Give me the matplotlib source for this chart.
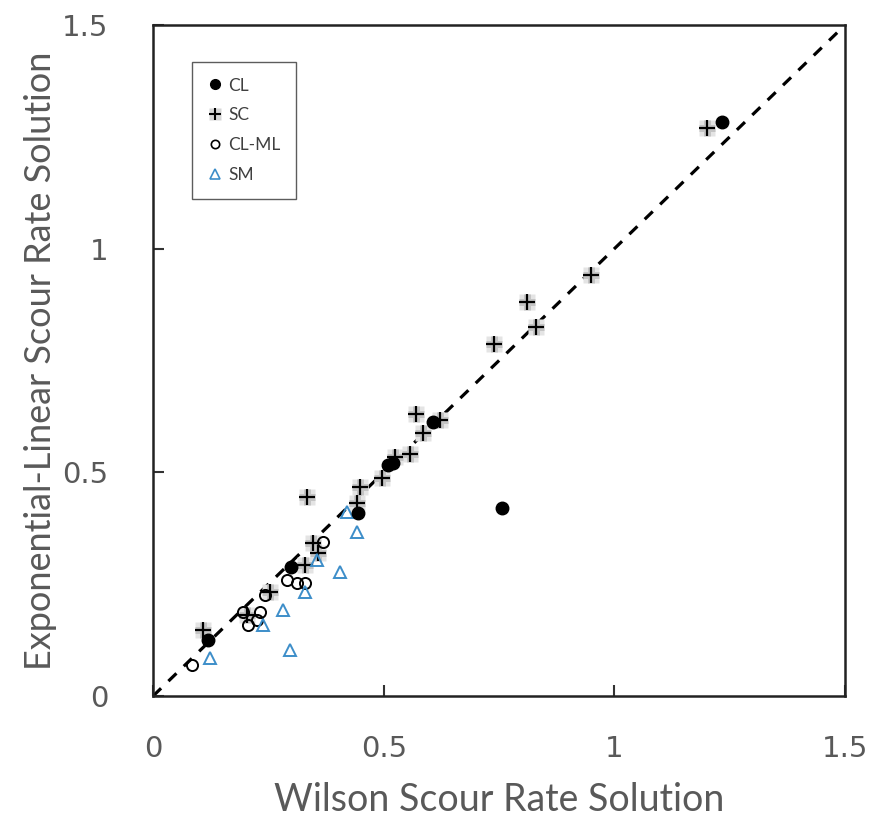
import numpy as np
import matplotlib.pyplot as plt
from matplotlib.lines import Line2D

# Wilson vs exponential-linear scour rate, by soil type
cl_x = [0.12, 0.30, 0.445, 0.51, 0.52, 0.607, 0.756, 1.234]
cl_y = [0.125, 0.289, 0.409, 0.516, 0.52, 0.612, 0.420, 1.283]

sc_x = [0.108, 0.204, 0.254, 0.330, 0.347, 0.358, 0.333, 0.443, 0.449, 0.496,
        0.525, 0.557, 0.585, 0.570, 0.623, 0.740, 0.811, 0.831, 0.950, 1.201]
sc_y = [0.148, 0.181, 0.233, 0.293, 0.342, 0.320, 0.446, 0.431, 0.468, 0.487,
        0.534, 0.541, 0.589, 0.630, 0.617, 0.786, 0.881, 0.826, 0.941, 1.269]

clml_x = [0.084, 0.195, 0.206, 0.232, 0.225, 0.243, 0.290, 0.312, 0.330, 0.369]
clml_y = [0.069, 0.188, 0.159, 0.188, 0.170, 0.226, 0.259, 0.253, 0.253, 0.344]

sm_x = [0.124, 0.239, 0.282, 0.297, 0.330, 0.355, 0.406, 0.420, 0.442]
sm_y = [0.085, 0.159, 0.192, 0.103, 0.233, 0.304, 0.277, 0.411, 0.367]

ticks = [0, 0.5, 1, 1.5]
tick_labels = ['0', '0.5', '1', '1.5']

grey = '#595959'
blue = '#3d8ec9'

fig = plt.figure(figsize=(8.76, 8.30), dpi=100)
ax = fig.add_axes([0.1747, 0.1614, 0.79, 0.8085])

# 1:1 line
ax.plot([0, 1.5], [0, 1.5], color='black', lw=2.3, ls=(0, (3.5, 3.2)), zorder=1)

ax.plot(sc_x, sc_y, ls='none', marker='s', ms=12, mfc='#e4e4e4', mec='none', zorder=2)
ax.plot(sc_x, sc_y, ls='none', marker='+', ms=12, mew=5, color='#c4c4c4', zorder=2)
ax.plot(sc_x, sc_y, ls='none', marker='+', ms=11, mew=1.6, color='black', zorder=3)
ax.plot(clml_x, clml_y, ls='none', marker='o', ms=8, mfc='none', mec='black', mew=1.4, zorder=3)
ax.plot(sm_x, sm_y, ls='none', marker='^', ms=9, mfc='none', mec=blue, mew=1.4, zorder=3)
ax.plot(cl_x, cl_y, ls='none', marker='o', ms=9, color='black', zorder=4)

ax.set_xlim(0, 1.5)
ax.set_ylim(0, 1.5)
ax.set_xticks(ticks)
ax.set_xticklabels(tick_labels)
ax.set_yticks(ticks)
ax.set_yticklabels(tick_labels)
ax.tick_params(direction='in', length=8, width=1.5, color='#333333',
               labelsize=21, labelcolor=grey)
ax.tick_params(axis='x', pad=28)
ax.tick_params(axis='y', pad=32)
for s in ax.spines.values():
    s.set_linewidth(1.8)
    s.set_color('#222222')

ax.set_xlabel('Wilson Scour Rate Solution', fontsize=27, color=grey,
              family='Lato', labelpad=14)
ax.set_ylabel('Exponential-Linear Scour Rate Solution', fontsize=26, color=grey,
              family='Lato', labelpad=4)

h_cl = Line2D([], [], ls='none', marker='o', ms=7, color='black')
h_sc = (Line2D([], [], ls='none', marker='s', ms=8, mfc='#d6d6d6', mec='none'),
        Line2D([], [], ls='none', marker='+', ms=9, mew=1.5, color='black'))
h_clml = Line2D([], [], ls='none', marker='o', ms=6, mfc='none', mec='black', mew=1.2)
h_sm = Line2D([], [], ls='none', marker='^', ms=7, mfc='none', mec=blue, mew=1.2)
leg = ax.legend([h_cl, h_sc, h_clml, h_sm], ['CL', 'SC', 'CL-ML', 'SM'],
                loc='upper left', bbox_to_anchor=(0.056, 0.945), borderaxespad=0,
                frameon=True, fancybox=False, edgecolor='#333333',
                prop={'family': 'Lato', 'size': 12.5}, labelspacing=0.8,
                handlelength=0.9, handletextpad=0.3, borderpad=0.9)
leg.get_frame().set_linewidth(1.0)
for t in leg.get_texts():
    t.set_color('#404040')

fig.savefig('out.png', dpi=100)
